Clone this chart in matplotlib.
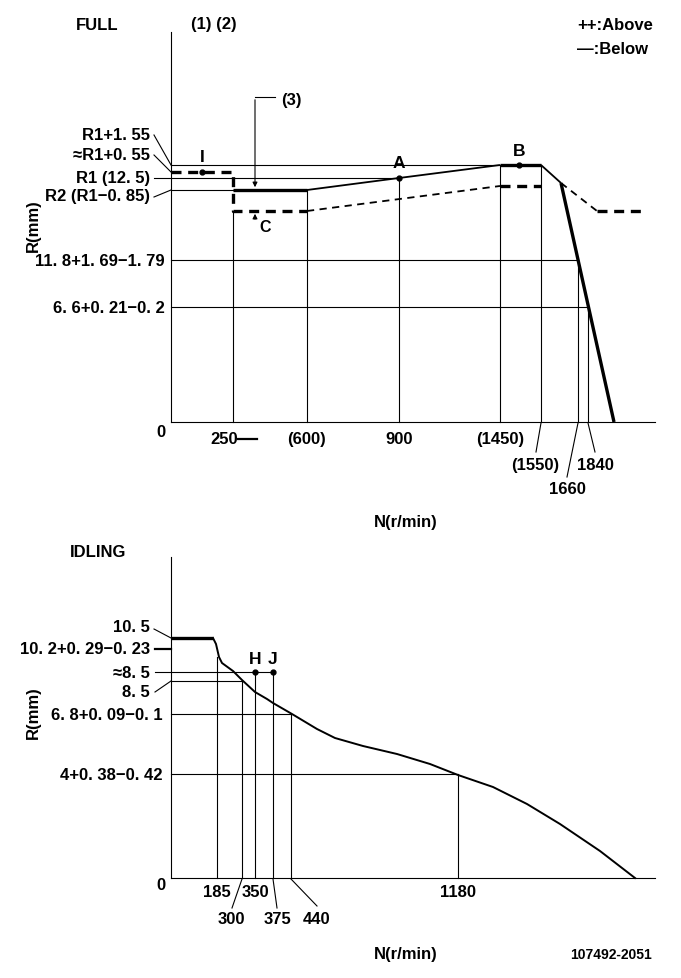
import matplotlib
matplotlib.use("Agg")
import matplotlib.pyplot as plt

plt.rcParams['font.family'] = ['Liberation Sans', 'DejaVu Sans']
plt.rcParams['font.weight'] = 'bold'

# ---------------- FULL chart (schematic positions) ----------------
full_speed_labels = ['(600)', '900', '(1450)']
full_speed_x = [307, 399, 500]
full_low_labels = ['(1550)', '1840']
full_low_x = [535, 595]
full_level_labels = ['R1+1. 55', '≈R1+0. 55', 'R1 (12. 5)', 'R2 (R1−0. 85)']
full_level_text_y = [135, 155, 178, 197]
full_level_y = [166, 173, 179, 191]
full_grid_labels = ['11. 8+1. 69−1. 79', '6. 6+0. 21−0. 2']
full_grid_y = [261, 308]
full_grid_end = [578, 588]

# verticals: x, top y
full_vert_x = [233, 307, 399, 500, 541, 578, 588]
full_vert_top = [212, 191, 179, 166, 166, 261, 308]

# solid characteristic
full_solid_x = [233, 307, 399, 500, 541, 561, 614]
full_solid_y = [191, 191, 179, 166, 166, 184, 423]
full_solid_thick = [True, False, False, True, False, True]
# dashed characteristic
full_dash1_x = [171, 233, 233, 307]
full_dash1_y = [173, 173, 212, 212]
full_dash2_x = [307, 500]
full_dash2_y = [212, 187]
full_dash3_x = [500, 541]
full_dash3_y = [187, 187]
full_dash4_x = [561, 597]
full_dash4_y = [184, 212]
full_dash5_x = [597, 642]
full_dash5_y = [212, 212]

full_points = {'I': (202, 173), 'A': (399, 179), 'B': (519, 166)}

# ---------------- IDLING chart ----------------
idle_curve_x = [171, 213, 216, 219, 222, 233, 242, 255, 267, 273, 292, 317, 335,
                363, 397, 430, 458, 493, 527, 560, 600, 635]
idle_curve_y = [639, 639, 645, 658, 664, 672, 681, 693, 700, 704, 715, 730, 739,
                747, 755, 765, 776, 788, 805, 825, 852, 879]
idle_vert_x = [217, 242, 255, 273, 291, 458]
idle_vert_top = [658, 681, 673, 673, 715, 775]
idle_speed_labels = ['185', '350', '1180']
idle_speed_lx = [217, 255, 458]
idle_low_labels = ['300', '375', '440']
idle_low_lx = [231, 278, 317]
idle_level_labels = ['10. 5', '10. 2+0. 29−0. 23', '≈8. 5', '8. 5']
idle_level_text_y = [628, 650, 674, 693]
idle_grid_labels = ['6. 8+0. 09−0. 1', '4+0. 38−0. 42']
idle_grid_y = [715, 775]
idle_grid_end = [291, 458]

fig = plt.figure(figsize=(6.81, 9.79), dpi=100)
ax = fig.add_axes([0, 0, 1, 1])
ax.set_xlim(0, 681)
ax.set_ylim(979, 0)
ax.axis('off')

K = 'black'
thin = 0.8
thick = 2.4
fs = 12


def txt(x, y, s, ha='center', size=fs, **kw):
    ax.text(x, y, s, ha=ha, va='center', fontsize=size, color=K, **kw)


# ---- FULL frame ----
ax.plot([171, 171], [33, 423], color=K, lw=thin)
ax.plot([171, 655], [423, 423], color=K, lw=thin)
txt(97, 25, 'FULL')
txt(214, 25, '(1) (2)')
txt(577, 26, '++:Above', ha='left')
txt(577, 49, '—:Below', ha='left')
txt(33, 226, 'R(mm)', rotation=90)
txt(161, 433, '0')
txt(406, 523, 'N(r/min)')

# horizontal reference lines
ax.plot([171, 500], [166, 166], color=K, lw=thin)
ax.plot([171, 399], [179, 179], color=K, lw=thin)
ax.plot([171, 233], [191, 191], color=K, lw=thin)
for lab, ty, ly in zip(full_level_labels, full_level_text_y, full_level_y):
    txt(150, ty, lab, ha='right')
    ax.plot([154, 171], [ty + 1, ly], color=K, lw=thin)
for lab, gy, ge in zip(full_grid_labels, full_grid_y, full_grid_end):
    txt(165, gy + 1, lab, ha='right')
    ax.plot([171, ge], [gy, gy], color=K, lw=thin)

for vx, vt in zip(full_vert_x, full_vert_top):
    ax.plot([vx, vx], [vt, 423], color=K, lw=thin)

for i in range(len(full_solid_x) - 1):
    ax.plot(full_solid_x[i:i + 2], full_solid_y[i:i + 2], color=K,
            lw=thick if full_solid_thick[i] else 1.3, solid_capstyle='butt')

for xs, ys, w in [(full_dash1_x, full_dash1_y, thick), (full_dash2_x, full_dash2_y, 1.3),
                  (full_dash3_x, full_dash3_y, thick), (full_dash4_x, full_dash4_y, 1.3),
                  (full_dash5_x, full_dash5_y, thick)]:
    ax.plot(xs, ys, color=K, lw=w, dashes=(3, 2) if w == thick else (4, 3))

for name, (px, py) in full_points.items():
    ax.plot(px, py, 'o', color=K, ms=3.5)
    txt(px, py - 15 if name != 'I' else py - 16, name, size=12.5)

# (3) and C markers
ax.plot([255, 275], [98, 98], color=K, lw=thin)
txt(291, 100, '(3)')
ax.annotate('', xy=(255, 191), xytext=(255, 98),
            arrowprops=dict(arrowstyle='-|>', color=K, lw=thin, mutation_scale=7))
ax.annotate('', xy=(255, 212), xytext=(255, 223),
            arrowprops=dict(arrowstyle='-|>', color=K, lw=thin, mutation_scale=7))
txt(265, 228, 'C', size=11.5)

# x labels
txt(224, 440, '250')
ax.plot([238, 257], [440, 440], color=K, lw=1.6)
for lab, lx in zip(full_speed_labels, full_speed_x):
    txt(lx, 440, lab)
for lab, lx in zip(full_low_labels, full_low_x):
    txt(lx, 466, lab)
txt(567, 490, '1660')
ax.plot([541, 536], [424, 453], color=K, lw=thin)
ax.plot([578, 567], [424, 478], color=K, lw=thin)
ax.plot([588, 595], [424, 453], color=K, lw=thin)

# ---- IDLING frame ----
ax.plot([171, 171], [558, 879], color=K, lw=thin)
ax.plot([171, 655], [879, 879], color=K, lw=thin)
txt(98, 553, 'IDLING')
txt(33, 713, 'R(mm)', rotation=90)
txt(161, 886, '0')
txt(406, 955, 'N(r/min)')
txt(652, 955, '107492-2051', ha='right', size=10)

txt(150, idle_level_text_y[0], idle_level_labels[0], ha='right')
ax.plot([154, 171], [630, 639], color=K, lw=thin)
txt(150, idle_level_text_y[1], idle_level_labels[1], ha='right')
ax.plot([155, 171], [650, 650], color=K, lw=1.6)
txt(150, idle_level_text_y[2], idle_level_labels[2], ha='right')
ax.plot([155, 273], [673, 673], color=K, lw=thin)
txt(150, idle_level_text_y[3], idle_level_labels[3], ha='right')
ax.plot([155, 171], [693, 682], color=K, lw=thin)
ax.plot([171, 242], [682, 682], color=K, lw=thin)
for lab, gy, ge in zip(idle_grid_labels, idle_grid_y, idle_grid_end):
    txt(163, gy + 1, lab, ha='right')
    ax.plot([171, ge], [gy, gy], color=K, lw=thin)

for vx, vt in zip(idle_vert_x, idle_vert_top):
    ax.plot([vx, vx], [vt, 879], color=K, lw=thin)

ax.plot(idle_curve_x[:2], idle_curve_y[:2], color=K, lw=thick, solid_capstyle='butt')
ax.plot(idle_curve_x[1:], idle_curve_y[1:], color=K, lw=1.4)

for name, hx in [('H', 255), ('J', 273)]:
    ax.plot(hx, 673, 'o', color=K, ms=3.5)
    txt(hx, 660, name, size=12.5)

for lab, lx in zip(idle_speed_labels, idle_speed_lx):
    txt(lx, 893, lab)
for lab, lx in zip(idle_low_labels, idle_low_lx):
    txt(lx, 920, lab)
ax.plot([242, 232], [880, 909], color=K, lw=thin)
ax.plot([273, 277], [880, 909], color=K, lw=thin)
ax.plot([291, 317], [880, 907], color=K, lw=thin)

fig.savefig('out.png', dpi=100)
